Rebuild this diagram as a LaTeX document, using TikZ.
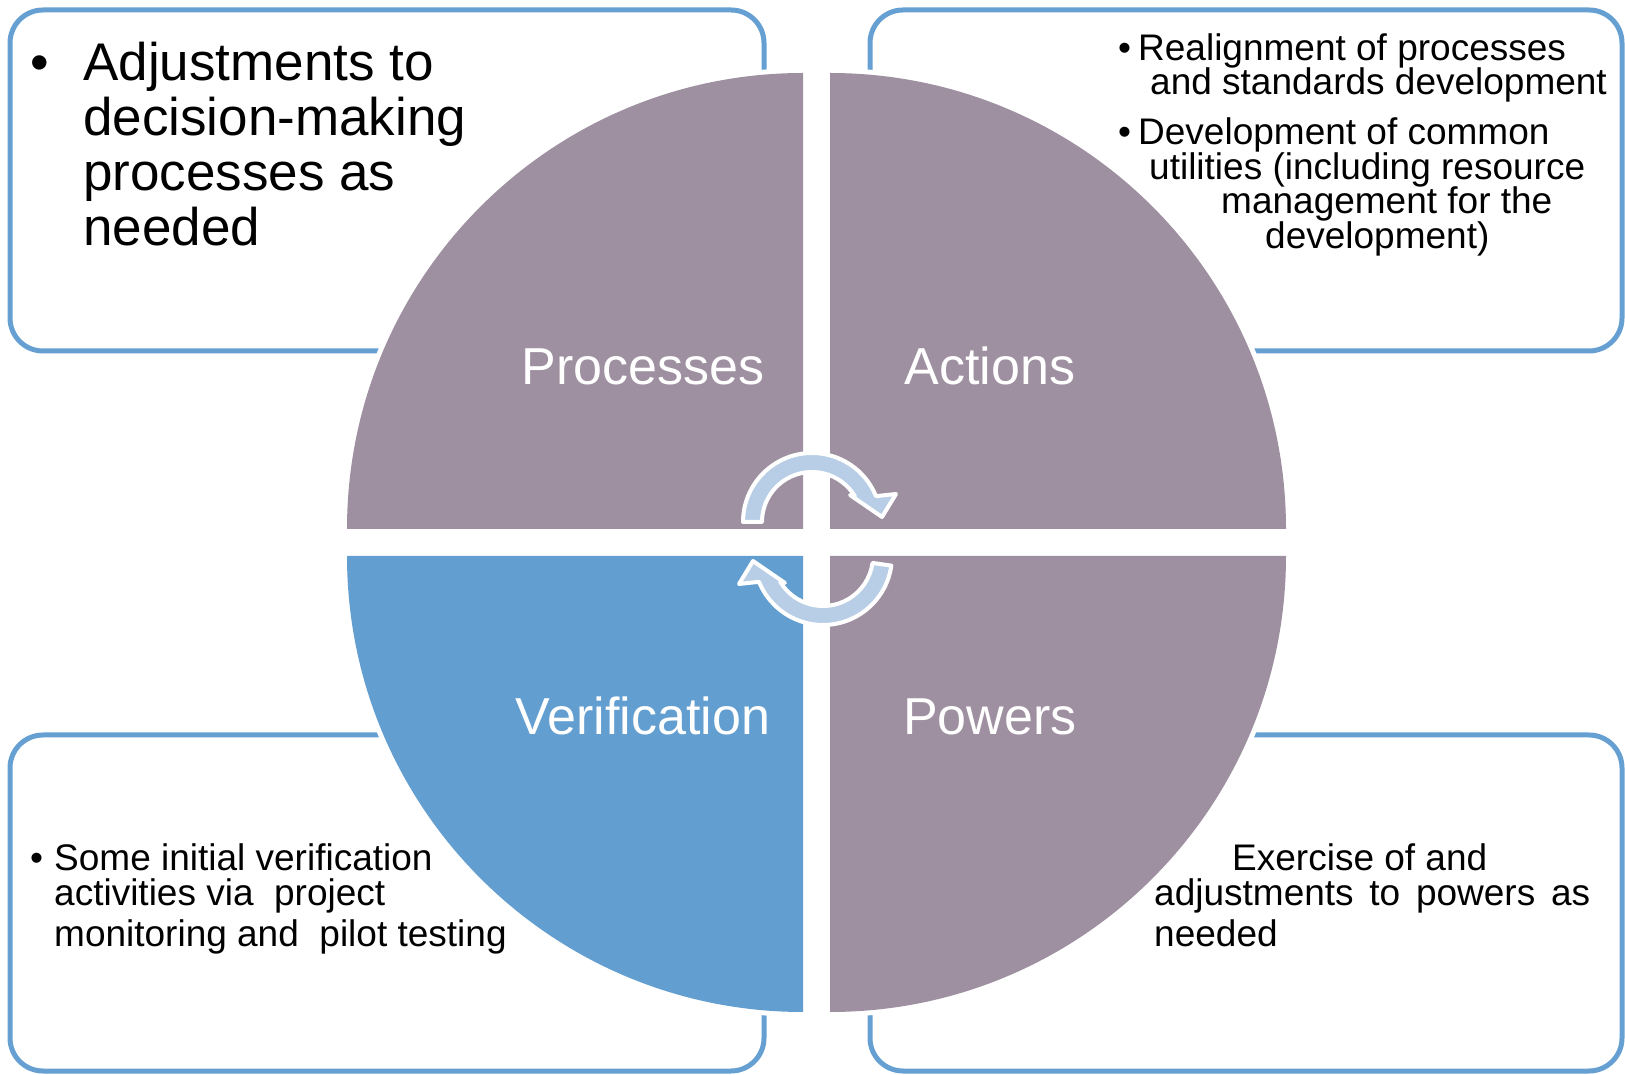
\documentclass[tikz,border=0pt]{standalone}
\usepackage{fontspec}
\setmainfont{Liberation Sans}
\definecolor{mauve}{HTML}{9E90A0}
\definecolor{quadblue}{HTML}{639ED0}
\definecolor{boxblue}{HTML}{66A0D3}
\definecolor{arrowfill}{HTML}{B8CEE6}
\tikzset{
  boxframe/.style={draw=boxblue, line width=5pt, rounded corners=33pt},
  halo/.style={draw=white, line width=10pt, line join=round},
  quadlabel/.style={text=white, font=\fontsize{52}{56}\selectfont, anchor=base, inner sep=0pt},
  bigtext/.style={font=\fontsize{53}{55}\selectfont, anchor=base west, inner sep=0pt},
  smalltext/.style={font=\fontsize{37}{39}\selectfont, anchor=base west, inner sep=0pt},
  cyclearrow/.style={fill=arrowfill, draw=white, line width=4pt, line join=round}
}
\begin{document}
\begin{tikzpicture}[x=1pt,y=1pt]
\useasboundingbox (0,0) rectangle (1625,1074);
% boxes
\draw[boxframe] (10,723) rectangle (764,1064);
\draw[boxframe] (870,723) rectangle (1622,1064);
\draw[boxframe] (10,3) rectangle (764,339);
\draw[boxframe] (870,3) rectangle (1622,339);
% quadrant halos
\path[halo] (803,545) -- ++(-456,0) arc[start angle=180,end angle=90,radius=456] -- cycle;
\path[halo] (830,545) -- ++(0,456) arc[start angle=90,end angle=0,radius=456] -- cycle;
\path[halo] (803,518) -- ++(0,-456) arc[start angle=270,end angle=180,radius=456] -- cycle;
\path[halo] (830,518) -- ++(456,0) arc[start angle=0,end angle=-90,radius=456] -- cycle;
% quadrants
\fill[mauve] (803,545) -- ++(-456,0) arc[start angle=180,end angle=90,radius=456] -- cycle;
\fill[mauve] (830,545) -- ++(0,456) arc[start angle=90,end angle=0,radius=456] -- cycle;
\fill[quadblue] (803,518) -- ++(0,-456) arc[start angle=270,end angle=180,radius=456] -- cycle;
\fill[mauve] (830,518) -- ++(456,0) arc[start angle=0,end angle=-90,radius=456] -- cycle;
% labels
\node[quadlabel] (proc) at (643,689) {Processes};
\node[quadlabel] (act) at (990,689) {Actions};
\node[quadlabel] (ver) at (643,339) {Verification};
\node[quadlabel] (pow) at (990,339) {Powers};
% cycle arrows
\begin{scope}[shift={(812,552)}]
\path[cyclearrow] (180:69) arc[start angle=180,end angle=22,radius=69] -- (84,28) -- (70,5) -- (38,27) -- (31:50) arc[start angle=31,end angle=180,radius=50] -- cycle;
\end{scope}
\begin{scope}[shift={(823,518)}, rotate=180]
\path[cyclearrow] (172:69) arc[start angle=172,end angle=22,radius=69] -- (84,28) -- (70,5) -- (38,27) -- (31:50) arc[start angle=31,end angle=172,radius=50] -- cycle;
\end{scope}
% top-left text
\node[bigtext] (tlb) at (30,993) {•};
\node[bigtext] (tl1) at (83,993) {Adjustments to};
\node[bigtext] (tl2) at (83,938) {decision-making};
\node[bigtext] (tl3) at (83,883) {processes as};
\node[bigtext] (tl4) at (83,828) {needed};
% top-right text
\node[smalltext] (trb1) at (1118,1013) {•};
\node[smalltext] (tr1) at (1138,1013) {Realignment of processes};
\node[smalltext] (tr2) at (1150,979) {and standards development};
\node[smalltext] (trb2) at (1118,929) {•};
\node[smalltext] (tr3) at (1138,929) {Development of common};
\node[smalltext] (tr4) at (1149,894) {utilities (including resource};
\node[smalltext] (tr5) at (1221,860) {management for the};
\node[smalltext] (tr6) at (1265,825) {development)};
% bottom-left text
\node[smalltext] (blb) at (30,203) {•};
\node[smalltext] (bl1) at (54,203) {Some initial verification};
\node[smalltext] (bl2) at (54,168) {activities via\ \ project};
\node[smalltext] (bl3) at (54,128) {monitoring and\ \ pilot testing};
% bottom-right text
\node[smalltext] (br1) at (1232,203) {Exercise of and};
\node[smalltext] (br2) at (1154,168) {\makebox[436pt][s]{adjustments to powers as}};
\node[smalltext] (br3) at (1154,128) {needed};
\end{tikzpicture}
\end{document}
